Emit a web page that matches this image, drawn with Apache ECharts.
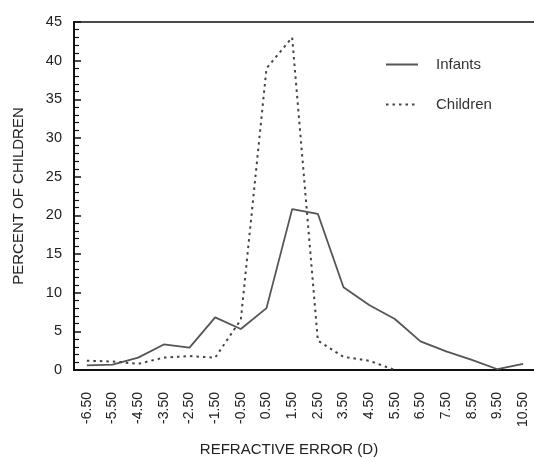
<!DOCTYPE html>
<html>
<head>
<meta charset="utf-8">
<script src="https://cdn.jsdelivr.net/npm/echarts@6/dist/echarts.min.js"></script>
<style>
html,body{margin:0;padding:0;background:#fff;}
#chart{width:534px;height:458px;}
</style>
</head>
<body>
<div id="chart"></div>
<script>
var categories = ['-6.50','-5.50','-4.50','-3.50','-2.50','-1.50','-0.50','0.50','1.50','2.50','3.50','4.50','5.50','6.50','7.50','8.50','9.50','10.50'];
var infants = [0.6, 0.7, 1.6, 3.3, 2.9, 6.8, 5.3, 8.0, 20.8, 20.2, 10.7, 8.4, 6.6, 3.7, 2.4, 1.3, 0.1, 0.8];
var children = [1.2, 1.1, 0.8, 1.6, 1.8, 1.6, 6.5, 39.0, 43.0, 3.8, 1.7, 1.2, 0, null, null, null, null, null];
var yTicks = {min: 0, max: 45, interval: 5};

var font = 'Liberation Sans, Arial, sans-serif';
var chart = echarts.init(document.getElementById('chart'), null, {renderer: 'canvas'});
chart.setOption({
  animation: false,
  backgroundColor: '#fff',
  grid: {left: 74, top: 22, bottom: 88, right: -2, outerBoundsMode: 'none', containLabel: false,
         show: true, borderColor: '#111', borderWidth: 1.5, backgroundColor: 'transparent'},
  legend: {
    orient: 'vertical', left: 380, top: 52, itemWidth: 32, itemHeight: 14, itemGap: 25,
    itemStyle: {opacity: 0, borderWidth: 0},
    textStyle: {fontFamily: font, fontSize: 15, color: '#333', padding: [0, 0, 0, 13]},
    data: ['Infants', 'Children']
  },
  xAxis: {
    type: 'category', data: categories, boundaryGap: true,
    name: 'REFRACTIVE ERROR (D)', nameLocation: 'middle', nameGap: 72,
    nameTextStyle: {fontFamily: font, fontSize: 15, color: '#222', padding: [0, 32, 0, 0]},
    axisLine: {lineStyle: {color: '#111', width: 2}},
    axisTick: {alignWithLabel: true, length: 12, lineStyle: {color: '#111', width: 2}},
    axisLabel: {rotate: 90, margin: 22, fontFamily: font, fontSize: 14, color: '#222', interval: 0},
    splitLine: {show: false}
  },
  yAxis: {
    type: 'value', min: yTicks.min, max: yTicks.max, interval: yTicks.interval,
    name: 'PERCENT OF CHILDREN', nameLocation: 'middle', nameGap: 48,
    nameTextStyle: {fontFamily: font, fontSize: 15, color: '#222'},
    axisLine: {show: true, lineStyle: {color: '#111', width: 2}},
    axisTick: {show: true, inside: true, length: 7, lineStyle: {color: '#111', width: 1.5}},
    minorTick: {show: true, splitNumber: 5, length: 5, lineStyle: {color: '#111', width: 1.2}},
    axisLabel: {margin: 12, fontFamily: font, fontSize: 14.5, color: '#222'},
    splitLine: {show: false}
  },
  series: [
    {name: 'Infants', type: 'line', data: infants, symbol: 'none', connectNulls: false,
     lineStyle: {color: '#555', width: 1.8, type: 'solid'}, itemStyle: {color: '#555'}},
    {name: 'Children', type: 'line', data: children, symbol: 'none', connectNulls: false,
     lineStyle: {color: '#444', width: 2, type: [2.5, 4]}, itemStyle: {color: '#444'}}
  ]
});
</script>
</body>
</html>
